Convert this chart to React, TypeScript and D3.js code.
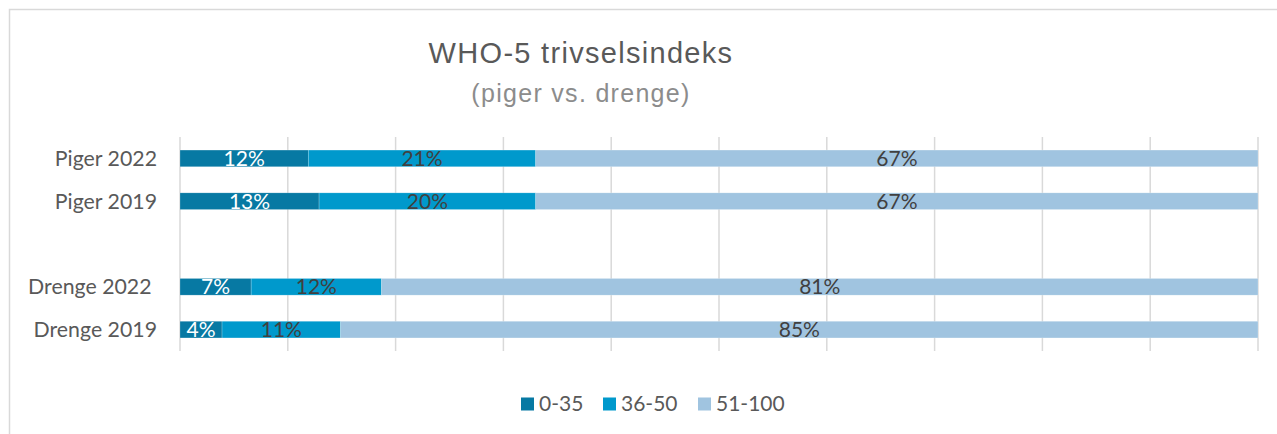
import React from "react";
import * as d3 from "d3";

const categories = ["Piger 2022", "Piger 2019", "", "Drenge 2022 ", "Drenge 2019"];
const seriesNames = ["0-35", "36-50", "51-100"];
const low = [11.9, 12.9, null, 6.6, 3.9];
const mid = [21.1, 20.1, null, 12.1, 11.0];
const high = [67.0, 67.0, null, 81.3, 85.1];
const xTicks = [0, 10, 20, 30, 40, 50, 60, 70, 80, 90, 100];
const title = "WHO-5 trivselsindeks";
const subtitle = "(piger vs. drenge)";

const colors = ["#0779a3", "#0099cc", "#a0c4e0"];
const labelColors = ["#ffffff", "#404040", "#404040"];
const W = 1277;
const H = 434;
const FONT = "Lato, 'Open Sans', sans-serif";

export default function App() {
  const x = d3.scaleLinear().domain([0, 100]).range([180, 1258]);
  const y = d3
    .scaleBand<string>()
    .domain(categories.map((c, i) => String(i)))
    .range([137, 351])
    .paddingInner(0.61)
    .paddingOuter(0.305);
  const series = [low, mid, high];
  const fmt = (v: number) => `${Math.round(v)}%`;

  return (
    <svg
      width={W}
      height={H}
      style={{ position: "absolute", left: 0, top: 0, background: "#fff" }}
    >
      <rect x={9.5} y={9.5} width={1300} height={500} fill="#fff" stroke="#d9d9d9" strokeWidth={1.5} />
      <text x={581} y={62.7} textAnchor="middle" fontFamily="'Liberation Sans', Arial, sans-serif" fontSize={29} fill="#595959" letterSpacing={1.3}>
        {title}
      </text>
      <text x={581} y={102.3} textAnchor="middle" fontFamily="'Liberation Sans', Arial, sans-serif" fontSize={25} fill="#8c8c8c" letterSpacing={1.3}>
        {subtitle}
      </text>
      {xTicks.map((t) => (
        <line key={t} x1={x(t)} x2={x(t)} y1={137} y2={351} stroke="#d9d9d9" strokeWidth={1.5} />
      ))}
      {categories.map((c, i) => {
        const yy = y(String(i))!;
        const bw = y.bandwidth();
        if (low[i] == null) return null;
        let acc = 0;
        return (
          <g key={i}>
            {series.map((s, k) => {
              const v = s[i] as number;
              const x0 = x(acc);
              acc += v;
              const x1 = x(acc);
              return (
                <g key={k}>
                  <rect x={x0} y={yy} width={x1 - x0} height={bw} fill={colors[k]} stroke="rgba(255,255,255,0.35)" strokeWidth={0.6} />
                  <text x={(x0 + x1) / 2} y={yy + bw / 2 + 7.6} textAnchor="middle" fontFamily={FONT} fontSize={21} fill={labelColors[k]}>
                    {fmt(v)}
                  </text>
                </g>
              );
            })}
            <text x={157} y={yy + bw / 2 + 7.6} textAnchor="end" fontFamily={FONT} fontSize={21.3} fill="#595959" style={{ whiteSpace: "pre" }}>
              {c}
            </text>
          </g>
        );
      })}
      {(() => {
        const items = [
          { sx: 521, tx: 539 },
          { sx: 603, tx: 621 },
          { sx: 698, tx: 716 },
        ];
        return seriesNames.map((n, k) => (
          <g key={n}>
            <rect x={items[k].sx} y={397.5} width={13} height={13} fill={colors[k]} />
            <text x={items[k].tx} y={410.5} fontFamily={FONT} fontSize={21} fill="#595959">
              {n}
            </text>
          </g>
        ));
      })()}
    </svg>
  );
}
